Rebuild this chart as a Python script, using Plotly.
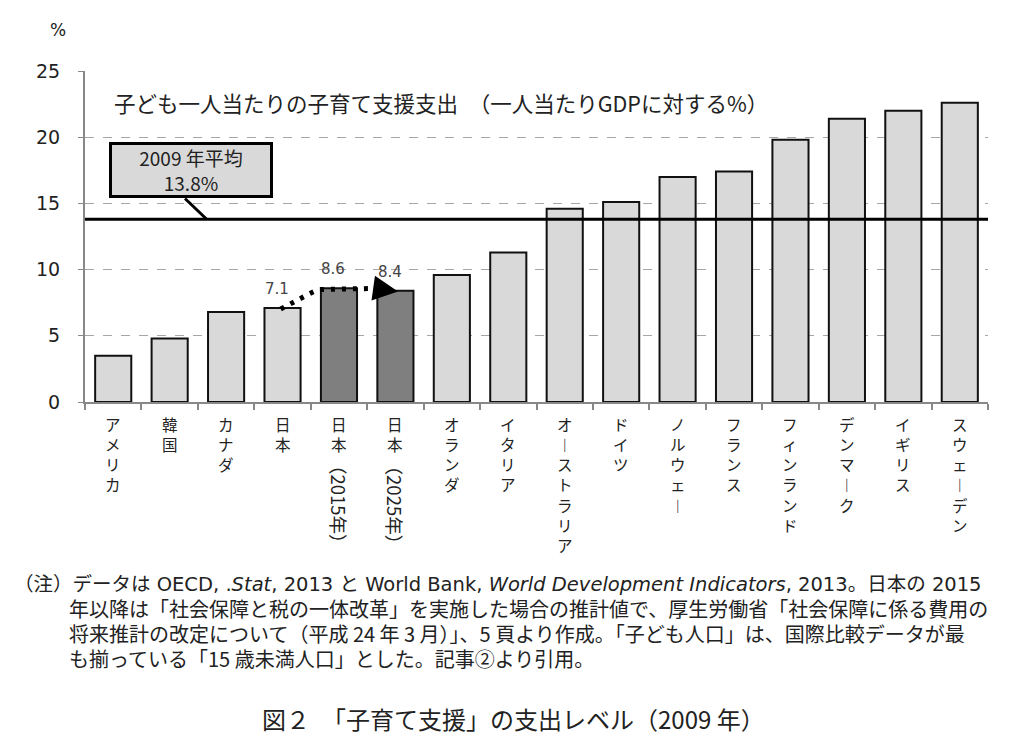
import plotly.graph_objects as go

categories = ["アメリカ", "韓国", "カナダ", "日本", "日本（2015年）", "日本（2025年）", "オランダ",
              "イタリア", "オーストラリア", "ドイツ", "ノルウェー", "フランス", "フィンランド",
              "デンマーク", "イギリス", "スウェーデン"]
values = [3.5, 4.8, 6.8, 7.1, 8.6, 8.4, 9.6, 11.3, 14.6, 15.1, 17.0, 17.4, 19.8, 21.4, 22.0, 22.6]
projected = [False, False, False, False, True, True, False, False, False, False, False, False,
             False, False, False, False]
average_2009 = 13.8
labelled = ["日本", "日本（2015年）", "日本（2025年）"]
y_ticks = [0, 5, 10, 15, 20, 25]

chart_title = "子ども一人当たりの子育て支援支出　（一人当たりGDPに対する%）"
avg_label = "2009 年平均<br>13.8%"
note_lines = [
    "（注）データは OECD, .<i>Stat</i>, 2013 と World Bank, <i>World Development Indicators</i>, 2013。日本の 2015",
    "年以降は「社会保障と税の一体改革」を実施した場合の推計値で、厚生労働省「社会保障に係る費用の",
    "将来推計の改定について（平成 24 年 3 月）」、5 頁より作成。「子ども人口」は、国際比較データが最",
    "も揃っている「15 歳未満人口」とした。記事②より引用。",
]
caption = "図２　「子育て支援」の支出レベル（2009 年）"

FONT = "Noto Sans CJK JP"
NUMFONT = "DejaVu Sans"
MIXFONT = "DejaVu Sans, Noto Sans CJK JP"
TXT = "#222222"

# page geometry (the page body adds an 8px offset)
OFF = 8
PL, PR, PT, PB = 85, 988, 71, 402     # plot area in page pixels
PAGE_W, PAGE_H = 1024, 745
W, H = PAGE_W - OFF, PAGE_H - OFF
pw, ph = PR - PL, PB - PT
ncat = len(categories)
step = pw / ncat
YMAX = 25


def dx(px):       # page px -> category coordinate
    return (px - PL) / step - 0.5


def dy(py):       # page px -> value
    return (PB - py) / ph * YMAX


def px_(px):      # page px -> paper x
    return (px - PL) / pw


def py_(py):      # page px -> paper y
    return (PB - py) / ph


fig = go.Figure()
fig.add_trace(go.Bar(
    x=categories, y=values,
    marker=dict(color=["#7f7f7f" if p else "#d9d9d9" for p in projected],
                line=dict(color="#111111", width=2)),
    hoverinfo="x+y", showlegend=False,
))

# average line
fig.add_shape(type="line", xref="paper", yref="y", x0=0, x1=1, y0=average_2009, y1=average_2009,
              line=dict(color="#000000", width=3), layer="above")

# dotted trend from 日本 to projections
trend_px = [(280.7, 309), (290.7, 303.3), (300, 298.7), (309, 294), (318.3, 289.5),
            (345, 288.5), (372, 288.5)]
fig.add_trace(go.Scatter(x=[dx(a) for a, b in trend_px], y=[dy(b) for a, b in trend_px],
                         xaxis="x2", mode="lines",
                         line=dict(color="#000000", width=5, dash="4px,7px"),
                         hoverinfo="skip", showlegend=False))
fig.add_annotation(x=dx(398), y=dy(291.5), ax=dx(380), ay=dy(289), xref="x2", yref="y",
                   axref="x2", ayref="y", text="", showarrow=True, arrowhead=2, arrowsize=2,
                   arrowwidth=2.5, arrowcolor="#000000", standoff=0)

# value labels
for cat in labelled:
    i = categories.index(cat)
    v = values[i]
    fig.add_annotation(x=i - 0.1, y=v, xref="x2", yref="y", text=f"{v}", showarrow=False,
                       yanchor="bottom", yshift=8, font=dict(family=NUMFONT, size=15, color="#444444"))

# title inside plot
fig.add_annotation(x=dx(112), y=dy(102), xref="x2", yref="y", xanchor="left", yanchor="middle",
                   text=chart_title, showarrow=False,
                   font=dict(family=FONT, size=21.5, color=TXT))

# average callout box
fig.add_annotation(x=dx(191), y=dy(170), xref="x2", yref="y", text=avg_label,
                   showarrow=False, bgcolor="#d9d9d9", bordercolor="#000000", borderwidth=3,
                   borderpad=0, width=158, height=50,
                   font=dict(family=FONT, size=19, color=TXT))
fig.add_shape(type="line", xref="x2", yref="y", x0=dx(185), y0=dy(198.5),
              x1=dx(206.7), y1=average_2009, line=dict(color="#000000", width=3))

# "%" unit
fig.add_annotation(x=px_(58), y=py_(30), xref="paper", yref="paper", text="%", showarrow=False,
                   xanchor="center", yanchor="middle", font=dict(family=NUMFONT, size=17, color=TXT))

# vertical category labels (stacked glyphs; long-vowel mark shown in its vertical form)
LBL_SIZE = 15.5
for i, cat in enumerate(categories):
    if "（" in cat:
        head, tail = cat.split("（", 1)
        tail = "（" + tail
    else:
        head, tail = cat, ""
    stacked = "<br>".join("︱" if ch == "ー" else ch for ch in head)
    fig.add_annotation(x=i, y=0, xref="x2", yref="paper", text=stacked, showarrow=False,
                       yanchor="top", xanchor="center", yshift=-9,
                       font=dict(family=FONT, size=LBL_SIZE, color=TXT))
    if tail:
        seglen = 94
        centre = 458 + seglen / 2
        fig.add_annotation(x=i, y=0, xref="x2", yref="paper", text=tail, showarrow=False,
                           textangle=90, yanchor="middle", xanchor="center",
                           yshift=-(centre - PB),
                           font=dict(family=FONT, size=18.5, color=TXT))

# notes
for k, line in enumerate(note_lines):
    x0 = 12 if k == 0 else 67
    fam = MIXFONT if k == 0 else FONT
    fig.add_annotation(x=px_(x0), y=py_(584 + k * 24.7), xref="paper", yref="paper",
                       xanchor="left", yanchor="middle", text=line, showarrow=False,
                       font=dict(family=fam, size=19.5 if k == 0 else 20, color=TXT))

fig.add_annotation(x=px_(513), y=py_(718), xref="paper", yref="paper", text=caption,
                   showarrow=False, yanchor="middle", xanchor="center",
                   font=dict(family=FONT, size=24, color=TXT))

fig.update_layout(
    width=W, height=H,
    margin=dict(l=PL - OFF, r=PAGE_W - PR, t=PT - OFF, b=PAGE_H - PB, pad=0),
    paper_bgcolor="white", plot_bgcolor="white",
    bargap=0.36,
    font=dict(family=FONT, color=TXT),
    xaxis=dict(type="category", showticklabels=False, tickson="boundaries", ticks="outside",
               ticklen=6, tickcolor="#888888", tickwidth=1.5, showline=True, linecolor="#888888",
               linewidth=2, showgrid=False, range=[-0.5, ncat - 0.5], fixedrange=True),
    xaxis2=dict(overlaying="x", range=[-0.5, ncat - 0.5], visible=False, fixedrange=True),
    yaxis=dict(range=[0, YMAX], tickvals=y_ticks, ticks="outside", ticklen=5, tickcolor="#888888",
               showline=True, linecolor="#888888", linewidth=2, showgrid=True,
               gridcolor="#a6a6a6", griddash="dash", gridwidth=1, zeroline=False,
               ticklabelstandoff=14, tickfont=dict(family=NUMFONT, size=19, color=TXT),
               fixedrange=True),
)

fig.write_html("out.html")
